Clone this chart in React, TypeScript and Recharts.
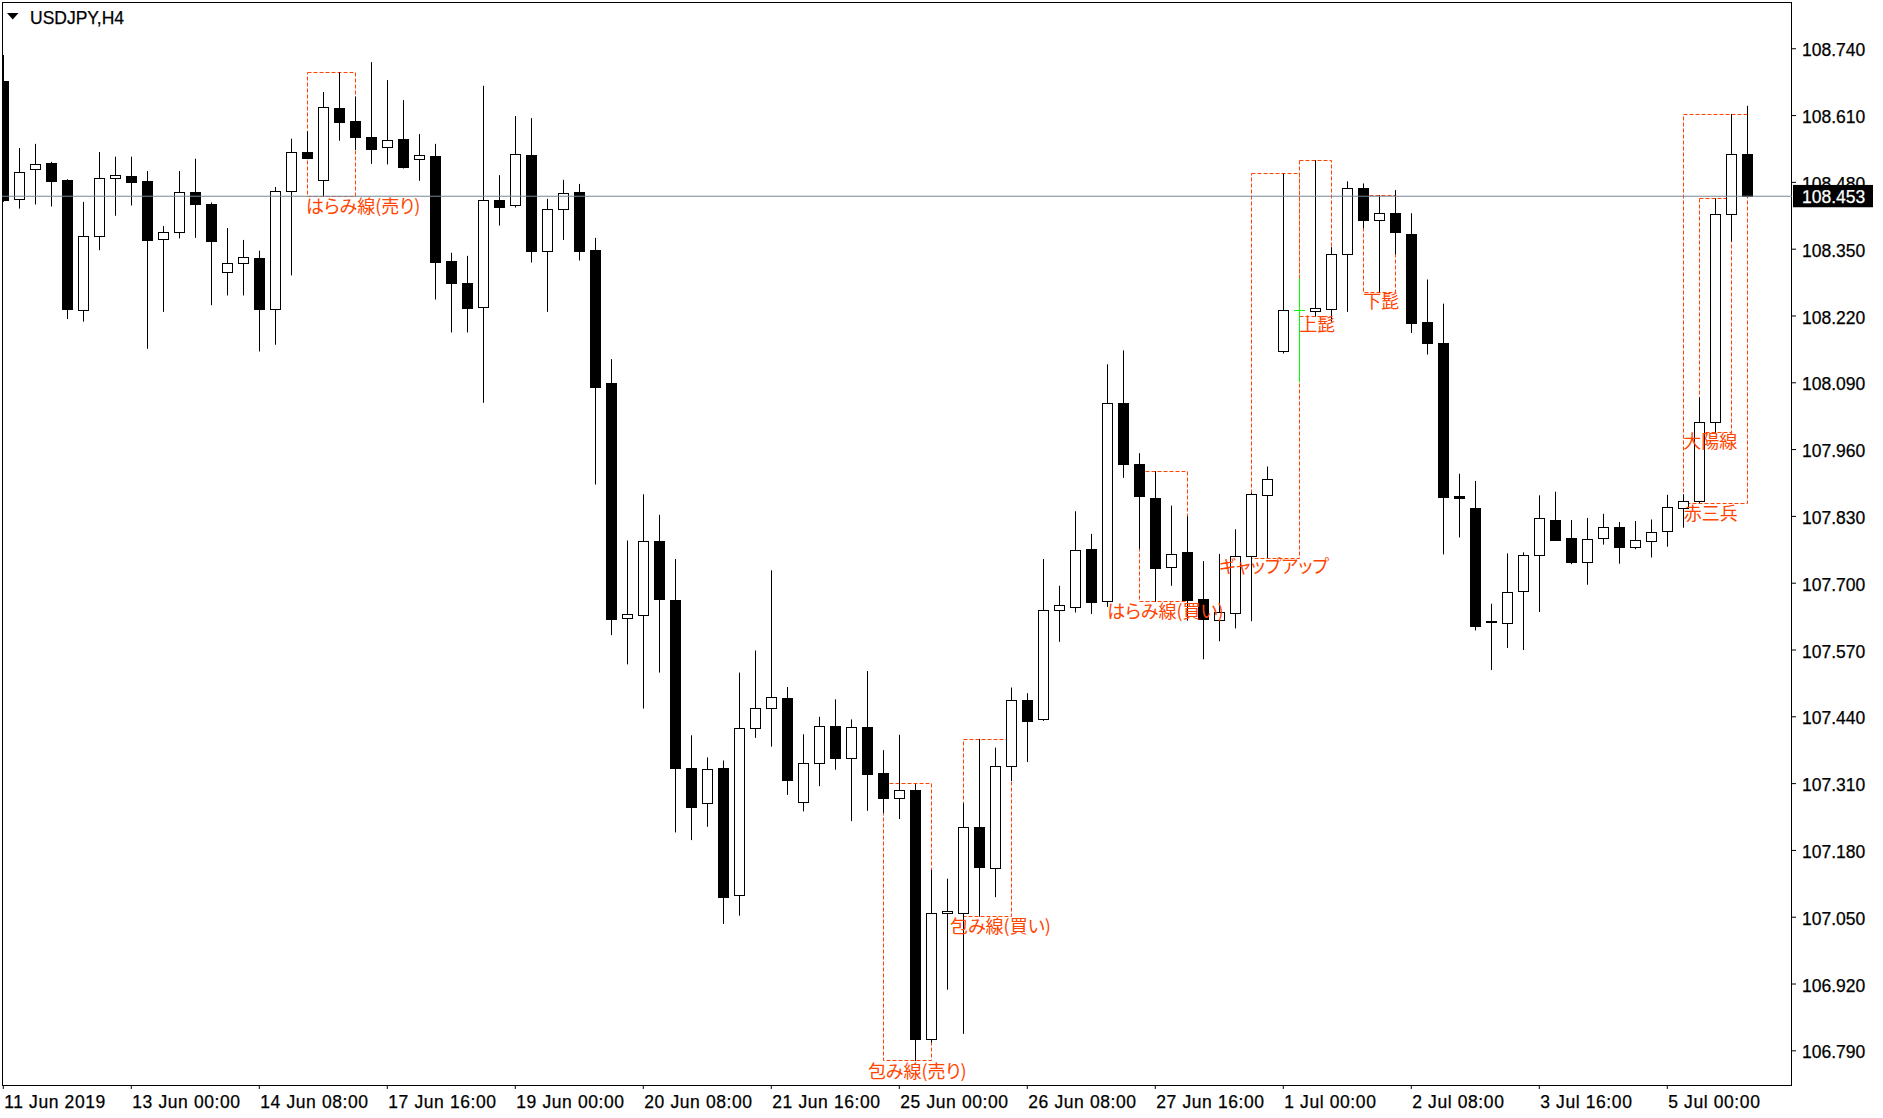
import React from 'react';
import { ComposedChart, Bar, XAxis, YAxis, ReferenceArea, ReferenceLine, ReferenceDot } from 'recharts';

const FONT = '"Liberation Sans", Arial, sans-serif';
const JP = '"Noto Sans CJK JP", "Noto Sans CJK SC", sans-serif';
const ORANGE = '#ff4500';

const symbolTitle = 'USDJPY,H4';

const opens = [
  108.677, 108.447, 108.506, 108.517, 108.484, 108.231, 108.375, 108.488, 108.493, 108.483,
  108.369, 108.383, 108.461, 108.438, 108.305, 108.323, 108.332, 108.233, 108.463, 108.539,
  108.484, 108.624, 108.600, 108.568, 108.548, 108.564, 108.526, 108.531, 108.327, 108.284,
  108.237, 108.445, 108.435, 108.533, 108.347, 108.428, 108.461, 108.348, 108.089, 107.633,
  107.638, 107.783, 107.668, 107.341, 107.273, 107.341, 107.093, 107.418, 107.457, 107.477,
  107.275, 107.351, 107.422, 107.359, 107.421, 107.330, 107.282, 107.298, 106.813, 107.058,
  107.058, 107.226, 107.146, 107.345, 107.472, 107.435, 107.648, 107.654, 107.767, 107.666,
  108.051, 107.932, 107.866, 107.732, 107.760, 107.669, 107.629, 107.642, 107.753, 107.872,
  108.151, 108.231, 108.229, 108.233, 108.341, 108.470, 108.406, 108.421, 108.379, 108.208,
  108.167, 107.870, 107.846, 107.627, 107.623, 107.685, 107.754, 107.823, 107.788, 107.742,
  107.787, 107.809, 107.770, 107.782, 107.802, 107.846, 107.860, 108.014, 108.418, 108.535,
];
const highs = [
  108.728, 108.547, 108.555, 108.520, 108.486, 108.442, 108.539, 108.530, 108.530, 108.502,
  108.395, 108.502, 108.526, 108.441, 108.391, 108.368, 108.347, 108.471, 108.565, 108.579,
  108.656, 108.694, 108.647, 108.714, 108.679, 108.640, 108.574, 108.555, 108.343, 108.337,
  108.668, 108.494, 108.609, 108.605, 108.448, 108.485, 108.477, 108.372, 108.136, 107.783,
  107.873, 107.833, 107.747, 107.404, 107.361, 107.355, 107.526, 107.569, 107.725, 107.498,
  107.406, 107.440, 107.474, 107.435, 107.529, 107.375, 107.405, 107.309, 107.142, 107.125,
  107.272, 107.397, 107.380, 107.497, 107.486, 107.747, 107.695, 107.840, 107.796, 108.126,
  108.153, 107.953, 107.918, 107.851, 107.830, 107.743, 107.757, 107.805, 107.876, 107.927,
  108.497, 108.293, 108.523, 108.354, 108.482, 108.478, 108.455, 108.465, 108.420, 108.291,
  108.244, 107.913, 107.899, 107.660, 107.758, 107.760, 107.871, 107.878, 107.823, 107.827,
  107.835, 107.819, 107.821, 107.824, 107.872, 107.873, 108.061, 108.449, 108.613, 108.629,
];
const lows = [
  108.442, 108.429, 108.437, 108.433, 108.214, 108.209, 108.348, 108.415, 108.435, 108.156,
  108.228, 108.371, 108.372, 108.241, 108.260, 108.260, 108.151, 108.164, 108.299, 108.525,
  108.452, 108.561, 108.543, 108.516, 108.515, 108.507, 108.483, 108.252, 108.188, 108.188,
  108.051, 108.396, 108.431, 108.324, 108.228, 108.368, 108.328, 107.892, 107.599, 107.542,
  107.456, 107.526, 107.215, 107.200, 107.226, 107.037, 107.053, 107.399, 107.382, 107.288,
  107.256, 107.305, 107.337, 107.237, 107.257, 107.253, 107.241, 106.770, 106.806, 106.909,
  106.823, 107.051, 107.089, 107.315, 107.352, 107.432, 107.586, 107.643, 107.640, 107.654,
  107.905, 107.767, 107.664, 107.695, 107.627, 107.552, 107.587, 107.612, 107.626, 107.749,
  108.147, 108.091, 108.219, 108.209, 108.228, 108.391, 108.266, 108.340, 108.187, 108.145,
  107.756, 107.789, 107.608, 107.531, 107.574, 107.570, 107.644, 107.783, 107.737, 107.697,
  107.775, 107.738, 107.766, 107.750, 107.771, 107.808, 107.856, 107.993, 108.365, 108.451,
];
const closes = [
  108.446, 108.500, 108.515, 108.483, 108.233, 108.375, 108.488, 108.494, 108.481, 108.367,
  108.383, 108.461, 108.437, 108.365, 108.323, 108.334, 108.234, 108.463, 108.539, 108.528,
  108.626, 108.598, 108.569, 108.544, 108.563, 108.509, 108.533, 108.326, 108.285, 108.236,
  108.445, 108.433, 108.535, 108.347, 108.428, 108.459, 108.347, 108.082, 107.631, 107.641,
  107.782, 107.669, 107.341, 107.264, 107.339, 107.090, 107.418, 107.457, 107.478, 107.317,
  107.350, 107.422, 107.360, 107.420, 107.329, 107.282, 107.298, 106.813, 107.058, 107.062,
  107.226, 107.147, 107.345, 107.473, 107.432, 107.648, 107.658, 107.764, 107.663, 108.051,
  107.932, 107.869, 107.730, 107.756, 107.668, 107.630, 107.643, 107.753, 107.874, 107.903,
  108.231, 108.231, 108.235, 108.341, 108.470, 108.407, 108.421, 108.383, 108.206, 108.167,
  107.867, 107.865, 107.617, 107.624, 107.683, 107.754, 107.826, 107.785, 107.742, 107.786,
  107.809, 107.770, 107.784, 107.799, 107.848, 107.859, 108.014, 108.418, 108.535, 108.453,
];

const xTickBars = [0, 8, 16, 24, 32, 40, 48, 56, 64, 72, 80, 88, 96, 104];
const xTickLabels = [
  '11 Jun 2019', '13 Jun 00:00', '14 Jun 08:00', '17 Jun 16:00', '19 Jun 00:00', '20 Jun 08:00',
  '21 Jun 16:00', '25 Jun 00:00', '26 Jun 08:00', '27 Jun 16:00', '1 Jul 00:00', '2 Jul 08:00',
  '3 Jul 16:00', '5 Jul 00:00',
];
const yTicks = [
  106.79, 106.92, 107.05, 107.18, 107.31, 107.44, 107.57, 107.7, 107.83, 107.96,
  108.09, 108.22, 108.35, 108.48, 108.61, 108.74,
];

// pattern boxes: bar from, bar to, top price, bottom price
const boxFrom = [19, 55, 60, 71, 78, 81, 85, 106, 105];
const boxTo = [22, 58, 63, 74, 81, 83, 87, 108, 109];
const boxTop = [108.694, 107.31, 107.396, 107.918, 108.497, 108.523, 108.455, 108.449, 108.613];
const boxBottom = [108.452, 106.771, 107.051, 107.664, 107.749, 108.219, 108.266, 107.993, 107.855];

// pattern labels: text, bar position of text start, price at text top
const labelText = ['はらみ線(売り)', '包み線(売り)', '包み線(買い)', 'はらみ線(買い)', 'ギャップアップ', '上髭', '下髭', '大陽線', '赤三兵'];
const labelBar = [18.92, 54.04, 59.17, 69.0, 75.99, 81.0, 85.0, 105.0, 105.03];
const labelPrice = [108.448, 106.766, 107.048, 107.66, 107.748, 108.219, 108.263, 107.991, 107.852];

const data = opens.map((o, i) => ({
  i,
  open: o,
  high: highs[i],
  low: lows[i],
  close: closes[i],
  range: [lows[i], highs[i]],
}));

const lastPrice = closes[closes.length - 1];

const snap = (v: number) => Math.round(v - 0.5) + 0.5;

const Candle = (props: any) => {
  const { x, y, width, height, payload } = props;
  if (!payload || x == null) return null;
  const { open, high, low, close } = payload;
  const top = Math.min(y, y + height);
  const h = Math.abs(height);
  const k = h / (high - low);
  const yOf = (v: number) => top + (high - v) * k;
  const px = snap(x + width / 2);
  const yH = yOf(high);
  const yL = yOf(low);
  if (open === close) {
    const yc = snap(yOf(open));
    return (
      <g>
        <line x1={px} x2={px} y1={yH} y2={yL} stroke="#00ff00" strokeWidth={1} />
        <line x1={px - 5.5} x2={px + 5.5} y1={yc} y2={yc} stroke="#00ff00" strokeWidth={1} />
      </g>
    );
  }
  const bTop = Math.round(yOf(Math.max(open, close)));
  const bBot = Math.round(yOf(Math.min(open, close)));
  const bull = close > open;
  return (
    <g>
      <line x1={px} x2={px} y1={yH} y2={yL} stroke="#000" strokeWidth={1} />
      <rect
        x={px - 5}
        y={bTop + 0.5}
        width={10}
        height={Math.max(bBot - bTop, 1)}
        fill={bull ? '#fff' : '#000'}
        stroke="#000"
        strokeWidth={1}
      />
    </g>
  );
};

const BoxShape = (props: any) => {
  const { x, y, width, height } = props;
  const x1 = snap(x);
  const x2 = snap(x + width);
  const y1 = snap(y);
  const y2 = snap(y + height);
  return (
    <rect
      x={x1}
      y={y1}
      width={x2 - x1}
      height={y2 - y1}
      fill="none"
      stroke={ORANGE}
      strokeWidth={1}
      strokeDasharray="4 2"
    />
  );
};

const XTick = (props: any) => {
  const { x, y, payload } = props;
  const idx = xTickBars.indexOf(payload.value);
  if (idx < 0) return null;
  return (
    <text
      x={x + 1}
      y={y + 16.5}
      fontSize={17.5}
      fontFamily={FONT}
      fill="#000"
      stroke="#000"
      strokeWidth={0.25}
      letterSpacing={0.6}
      textAnchor="start"
    >
      {xTickLabels[idx]}
    </text>
  );
};

const YTick = (props: any) => {
  const { x, y, payload } = props;
  return (
    <text
      x={x + 4}
      y={y + 7.6}
      fontSize={17.5}
      fontFamily={FONT}
      fill="#000"
      stroke="#000"
      strokeWidth={0.25}
      textAnchor="start"
    >
      {Number(payload.value).toFixed(3)}
    </text>
  );
};

const PriceTag = (props: any) => {
  const { viewBox } = props;
  if (!viewBox) return null;
  const x0 = viewBox.x + viewBox.width;
  const yy = viewBox.y;
  return (
    <g>
      <rect x={x0 + 1} y={yy - 11.3} width={80} height={22.3} fill="#000" />
      <text x={x0 + 10} y={yy + 6.7} fontSize={17.5} fontFamily={FONT} fill="#fff" stroke="#fff" strokeWidth={0.25}>
        {lastPrice.toFixed(3)}
      </text>
    </g>
  );
};

export default function App() {
  return (
    <div style={{ position: 'absolute', left: 0, top: 0, width: 1883, height: 1118, background: '#fff', overflow: 'hidden' }}>
      <div
        style={{
          position: 'absolute',
          left: 2,
          top: 2,
          width: 1790,
          height: 1084,
          boxSizing: 'border-box',
          border: '1px solid #000',
        }}
      />
      <div style={{ position: 'absolute', left: 0, top: 0 }}>
        <ComposedChart width={1883} height={1118} data={data} margin={{ top: 2, right: 0, bottom: 0, left: 2 }}>
          <XAxis
            dataKey="i"
            type="number"
            domain={[-0.081, 111.794]}
            allowDataOverflow
            ticks={xTickBars}
            interval={0}
            height={33}
            axisLine={false}
            tickLine={{ stroke: '#000' }}
            tickSize={4}
            tick={<XTick />}
          />
          <YAxis
            orientation="right"
            type="number"
            domain={[106.7235, 108.831]}
            allowDataOverflow
            ticks={yTicks}
            interval={0}
            width={91}
            axisLine={false}
            tickLine={{ stroke: '#000' }}
            tickSize={4}
            tick={<YTick />}
          />
          <ReferenceLine y={lastPrice} stroke="#778899" strokeWidth={1} label={<PriceTag />} />
          <Bar dataKey="range" barSize={10} shape={<Candle />} isAnimationActive={false} />
          {boxFrom.map((b, k) => (
            <ReferenceArea
              key={'box' + k}
              x1={b}
              x2={boxTo[k]}
              y1={boxBottom[k]}
              y2={boxTop[k]}
              shape={<BoxShape />}
            />
          ))}
          {labelText.map((t, k) => (
            <ReferenceDot
              key={'lab' + k}
              x={labelBar[k]}
              y={labelPrice[k]}
              r={1}
              shape={(p: any) => (
                <text
                  x={p.cx}
                  y={p.cy + 14.5}
                  fontSize={18}
                  fontFamily={JP}
                  fill={ORANGE}
                  textAnchor="start"
                  style={{ fontFeatureSettings: '"palt"' }}
                >
                  {t}
                </text>
              )}
            />
          ))}
        </ComposedChart>
      </div>
      <svg width={200} height={40} style={{ position: 'absolute', left: 0, top: 0 }}>
        <polygon points="7,13 18.5,13 12.75,19.5" fill="#000" />
        <text x={30} y={24} fontSize={17.5} fontFamily={FONT} fill="#000" stroke="#000" strokeWidth={0.25}>
          {symbolTitle}
        </text>
      </svg>
    </div>
  );
}
